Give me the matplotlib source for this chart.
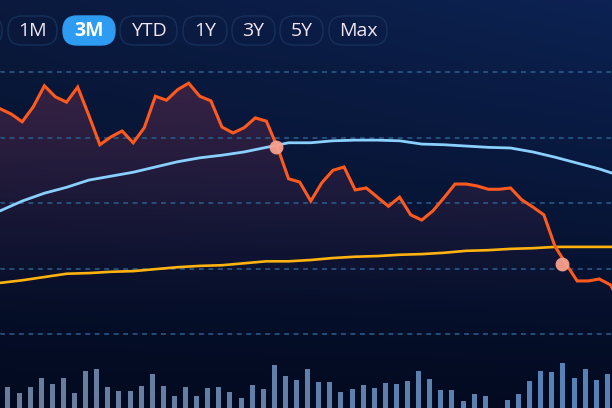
import numpy as np
import matplotlib
matplotlib.use('Agg')
import matplotlib.pyplot as plt
from matplotlib.patches import FancyBboxPatch, Polygon

# price (orange), one point per trading day
days = np.arange(57)
price = [34.4, 33.6, 32.4, 34.7, 37.9, 36.2, 35.4, 37.7, 33.4, 28.9,
         30.1, 31.0, 29.2, 31.5, 36.3, 35.7, 37.3, 38.3, 36.3, 35.6,
         31.6, 30.7, 31.5, 33.0, 32.5, 28.5, 23.7, 23.2, 20.3, 23.1,
         25.0, 25.5, 22.0, 22.3, 20.9, 19.5, 20.9, 18.2, 17.4, 18.8,
         20.8, 22.9, 22.9, 22.6, 22.1, 22.1, 22.3, 20.5, 19.4, 18.2,
         13.4, 10.7, 8.1, 8.1, 8.4, 7.5, 4.4]

# moving averages, read every second day
avg_days = np.arange(0, 57, 2)
fast_avg = [18.8, 20.3, 21.5, 22.4, 23.5, 24.1, 24.7, 25.5, 26.3, 26.9,
            27.3, 27.8, 28.5, 29.2, 29.2, 29.5, 29.6, 29.6, 29.5, 29.0,
            28.9, 28.7, 28.5, 28.4, 27.8, 27.0, 26.1, 25.2, 24.1]
slow_avg = [7.8, 8.2, 8.7, 9.2, 9.3, 9.5, 9.6, 9.9, 10.2, 10.4,
            10.5, 10.8, 11.1, 11.1, 11.3, 11.6, 11.8, 11.9, 12.1, 12.2,
            12.4, 12.7, 12.8, 13.0, 13.1, 13.3, 13.3, 13.3, 13.3]

# crossings of price with the averages
cross_days = [24.9, 50.6]
cross_vals = [28.5, 10.7]

# volume
vol_days = np.arange(55)
volume = [21, 15, 21, 30, 24, 30, 15, 37, 39, 21, 17, 17, 22, 34, 22, 12,
          21, 12, 20, 21, 16, 10, 23, 19, 43, 32, 28, 39, 26, 26, 16, 19,
          23, 20, 25, 24, 27, 37, 29, 18, 18, 7, 14, 12, 0, 8, 14, 27, 37,
          36, 45, 30, 39, 28, 34]

ranges = ['1M', '3M', 'YTD', '1Y', '3Y', '5Y', 'Max']
active = '3M'

W, H = 612, 408
fig = plt.figure(figsize=(W / 100, H / 100), dpi=100)

# dark navy background, a bit brighter top right
bg = fig.add_axes([0, 0, 1, 1])
bg.set_axis_off()
gy = np.linspace(0, 1, 200)[:, None, None]
gx = np.linspace(0, 1, 300)[None, :, None]
c_bot = np.array([0.012, 0.040, 0.125])
c_top = np.array([0.040, 0.100, 0.240])
img = c_bot + (c_top - c_bot) * gy ** 0.9 + np.array([0.008, 0.035, 0.085]) * gx * gy ** 1.2
bg.imshow(np.clip(img, 0, 1), extent=[0, 1, 0, 1], origin='lower', aspect='auto')
bg.set_xlim(0, 1)
bg.set_ylim(0, 1)

ax = fig.add_axes([0, 0, 1, 1])
ax.patch.set_alpha(0)
ax.set_xlim(0, 55.14)
ax.set_ylim(-11.3, 51.0)
for s in ax.spines.values():
    s.set_visible(False)
ax.set_yticks([0, 10, 20, 30, 40])
ax.set_xticks([])
ax.tick_params(left=False, labelleft=False)
ax.grid(axis='y', color='#2a5f8e', lw=1.1, ls=(0, (3.2, 3.0)))

# gradient fill under the price line
poly = Polygon(list(zip(days, price)) + [(days[-1], -11.3), (0, -11.3)],
               closed=True, facecolor='none', edgecolor='none')
ax.add_patch(poly)
grad = np.zeros((200, 2, 4))
a = np.linspace(0, 1, 200)
grad[:, :, 0] = 0.30
grad[:, :, 1] = 0.15
grad[:, :, 2] = 0.28
grad[:, :, 3] = (np.clip((a - 0.25) / 0.75, 0, 1) ** 1.3 * 0.75)[:, None]
fill = ax.imshow(grad, extent=[0, 56, -11.3, 40], origin='lower',
                 aspect='auto', zorder=1)
fill.set_clip_path(poly)

ax.plot(avg_days, fast_avg, color='#8ad0ff', lw=2.0, zorder=3,
        solid_capstyle='round')
ax.plot(avg_days, slow_avg, color='#ffb30f', lw=1.9, zorder=3)
ax.plot(days, price, color='#ff5a1e', lw=2.2, zorder=4, solid_joinstyle='miter')
ax.plot(cross_days, cross_vals, 'o', ms=10, color='#f6a08e', mec='none',
        alpha=0.95, zorder=5)

# volume bars
axv = ax.twinx()
axv.set_ylim(0, 408)
axv.set_axis_off()
mix = np.linspace(0, 1, len(vol_days))[:, None]
bar_cols = (1 - mix) * np.array([0.42, 0.49, 0.61]) + mix * np.array([0.33, 0.51, 0.72])
axv.bar(vol_days + 0.72, volume, width=0.45, color=bar_cols, zorder=2)
axv.set_xlim(0, 55.14)

# range selector buttons
ui = fig.add_axes([0, 0, 1, 1])
ui.set_xlim(0, W)
ui.set_ylim(H, 0)
ui.set_axis_off()
ui.patch.set_alpha(0)
spans = [(8, 57), (63, 115), (120, 177), (183, 227), (232, 275), (280, 323), (329, 387)]
ui.add_patch(FancyBboxPatch((-45, 16), 47, 29,
                            boxstyle='round,pad=0,rounding_size=14',
                            fc='none', ec='#16305a', lw=1.0))
for lab, (x0, x1) in zip(ranges, spans):
    on = lab == active
    ui.add_patch(FancyBboxPatch((x0, 16), x1 - x0, 29,
                                boxstyle='round,pad=0,rounding_size=14',
                                fc='#2e9cf2' if on else 'none',
                                ec='#2e9cf2' if on else '#16305a', lw=1.0))
    ui.text((x0 + x1) / 2, 31, lab, ha='center', va='center',
            fontsize=14, family='Open Sans',
            fontweight='bold' if on else 'normal',
            color='white' if on else '#f2e6f2')

fig.savefig('out.png', dpi=100)
